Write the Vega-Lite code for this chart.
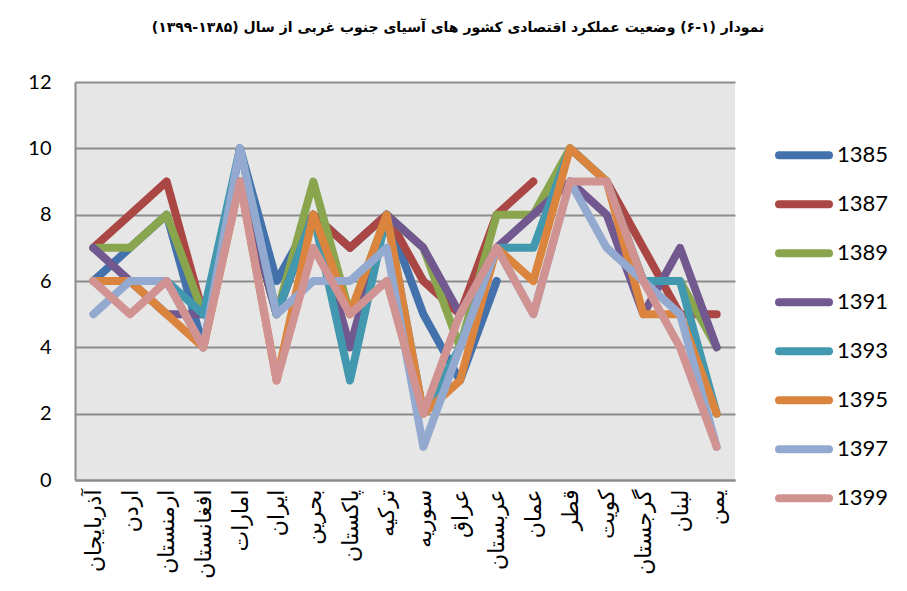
{
  "$schema": "https://vega.github.io/schema/vega-lite/v6.json",
  "width": 660,
  "height": 398,
  "autosize": {"type": "none"},
  "padding": {"left": 75, "top": 82, "right": 172, "bottom": 111},
  "background": "white",
  "title": {
    "text": "نمودار (۱-۶) وضعیت عملکرد اقتصادی کشور های آسیای جنوب غربی از سال (۱۳۸۵-۱۳۹۹)‏",
    "font": "DejaVu Sans",
    "fontSize": 14,
    "fontWeight": "bold",
    "color": "black",
    "anchor": "middle",
    "dx": 53,
    "offset": 37
  },
  "config": {
    "view": {"fill": "#e6e6e6", "stroke": null},
    "axis": {"domainColor": "#8c8c8c", "domainWidth": 2, "gridColor": "#8c8c8c", "gridWidth": 2, "ticks": false}
  },
  "data": {"values": [
    {"c":"آذربایجان","y":"1385","v":6},{"c":"اردن","y":"1385","v":7},{"c":"ارمنستان","y":"1385","v":8},{"c":"افغانستان","y":"1385","v":4},{"c":"امارات","y":"1385","v":10},{"c":"ایران","y":"1385","v":6},{"c":"بحرین","y":"1385","v":8},{"c":"پاکستان","y":"1385","v":7},{"c":"ترکیه","y":"1385","v":8},{"c":"سوریه","y":"1385","v":5},{"c":"عراق","y":"1385","v":3},{"c":"عربستان","y":"1385","v":6},
    {"c":"آذربایجان","y":"1387","v":7},{"c":"اردن","y":"1387","v":8},{"c":"ارمنستان","y":"1387","v":9},{"c":"افغانستان","y":"1387","v":5},{"c":"امارات","y":"1387","v":9},{"c":"ایران","y":"1387","v":5},{"c":"بحرین","y":"1387","v":8},{"c":"پاکستان","y":"1387","v":7},{"c":"ترکیه","y":"1387","v":8},{"c":"سوریه","y":"1387","v":6},{"c":"عراق","y":"1387","v":5},{"c":"عربستان","y":"1387","v":8},{"c":"عمان","y":"1387","v":9},{"c":"قطر","y":"1387","v":null},{"c":"کویت","y":"1387","v":9},{"c":"گرجستان","y":"1387","v":7},{"c":"لبنان","y":"1387","v":5},{"c":"یمن","y":"1387","v":5},
    {"c":"آذربایجان","y":"1389","v":7},{"c":"اردن","y":"1389","v":7},{"c":"ارمنستان","y":"1389","v":8},{"c":"افغانستان","y":"1389","v":5},{"c":"امارات","y":"1389","v":9},{"c":"ایران","y":"1389","v":5},{"c":"بحرین","y":"1389","v":9},{"c":"پاکستان","y":"1389","v":5},{"c":"ترکیه","y":"1389","v":8},{"c":"سوریه","y":"1389","v":7},{"c":"عراق","y":"1389","v":4},{"c":"عربستان","y":"1389","v":8},{"c":"عمان","y":"1389","v":8},{"c":"قطر","y":"1389","v":10},{"c":"کویت","y":"1389","v":9},{"c":"گرجستان","y":"1389","v":6},{"c":"لبنان","y":"1389","v":6},{"c":"یمن","y":"1389","v":4},
    {"c":"آذربایجان","y":"1391","v":7},{"c":"اردن","y":"1391","v":6},{"c":"ارمنستان","y":"1391","v":5},{"c":"افغانستان","y":"1391","v":5},{"c":"امارات","y":"1391","v":9},{"c":"ایران","y":"1391","v":5},{"c":"بحرین","y":"1391","v":8},{"c":"پاکستان","y":"1391","v":4},{"c":"ترکیه","y":"1391","v":8},{"c":"سوریه","y":"1391","v":7},{"c":"عراق","y":"1391","v":5},{"c":"عربستان","y":"1391","v":7},{"c":"عمان","y":"1391","v":8},{"c":"قطر","y":"1391","v":9},{"c":"کویت","y":"1391","v":8},{"c":"گرجستان","y":"1391","v":5},{"c":"لبنان","y":"1391","v":7},{"c":"یمن","y":"1391","v":4},
    {"c":"آذربایجان","y":"1393","v":6},{"c":"اردن","y":"1393","v":6},{"c":"ارمنستان","y":"1393","v":6},{"c":"افغانستان","y":"1393","v":5},{"c":"امارات","y":"1393","v":10},{"c":"ایران","y":"1393","v":5},{"c":"بحرین","y":"1393","v":8},{"c":"پاکستان","y":"1393","v":3},{"c":"ترکیه","y":"1393","v":8},{"c":"سوریه","y":"1393","v":2},{"c":"عراق","y":"1393","v":4},{"c":"عربستان","y":"1393","v":7},{"c":"عمان","y":"1393","v":7},{"c":"قطر","y":"1393","v":10},{"c":"کویت","y":"1393","v":9},{"c":"گرجستان","y":"1393","v":6},{"c":"لبنان","y":"1393","v":6},{"c":"یمن","y":"1393","v":2},
    {"c":"آذربایجان","y":"1395","v":6},{"c":"اردن","y":"1395","v":6},{"c":"ارمنستان","y":"1395","v":5},{"c":"افغانستان","y":"1395","v":4},{"c":"امارات","y":"1395","v":9},{"c":"ایران","y":"1395","v":3},{"c":"بحرین","y":"1395","v":8},{"c":"پاکستان","y":"1395","v":5},{"c":"ترکیه","y":"1395","v":8},{"c":"سوریه","y":"1395","v":2},{"c":"عراق","y":"1395","v":3},{"c":"عربستان","y":"1395","v":7},{"c":"عمان","y":"1395","v":6},{"c":"قطر","y":"1395","v":10},{"c":"کویت","y":"1395","v":9},{"c":"گرجستان","y":"1395","v":5},{"c":"لبنان","y":"1395","v":5},{"c":"یمن","y":"1395","v":2},
    {"c":"آذربایجان","y":"1397","v":5},{"c":"اردن","y":"1397","v":6},{"c":"ارمنستان","y":"1397","v":6},{"c":"افغانستان","y":"1397","v":4},{"c":"امارات","y":"1397","v":10},{"c":"ایران","y":"1397","v":5},{"c":"بحرین","y":"1397","v":6},{"c":"پاکستان","y":"1397","v":6},{"c":"ترکیه","y":"1397","v":7},{"c":"سوریه","y":"1397","v":1},{"c":"عراق","y":"1397","v":4},{"c":"عربستان","y":"1397","v":7},{"c":"عمان","y":"1397","v":5},{"c":"قطر","y":"1397","v":9},{"c":"کویت","y":"1397","v":7},{"c":"گرجستان","y":"1397","v":6},{"c":"لبنان","y":"1397","v":5},{"c":"یمن","y":"1397","v":1},
    {"c":"آذربایجان","y":"1399","v":6},{"c":"اردن","y":"1399","v":5},{"c":"ارمنستان","y":"1399","v":6},{"c":"افغانستان","y":"1399","v":4},{"c":"امارات","y":"1399","v":9},{"c":"ایران","y":"1399","v":3},{"c":"بحرین","y":"1399","v":7},{"c":"پاکستان","y":"1399","v":5},{"c":"ترکیه","y":"1399","v":6},{"c":"سوریه","y":"1399","v":2},{"c":"عراق","y":"1399","v":5},{"c":"عربستان","y":"1399","v":7},{"c":"عمان","y":"1399","v":5},{"c":"قطر","y":"1399","v":9},{"c":"کویت","y":"1399","v":9},{"c":"گرجستان","y":"1399","v":6},{"c":"لبنان","y":"1399","v":4},{"c":"یمن","y":"1399","v":1}
  ]},
  "mark": {"type": "line", "strokeWidth": 8, "strokeCap": "round", "strokeJoin": "round"},
  "encoding": {
    "x": {
      "field": "c", "type": "nominal",
      "sort": ["آذربایجان","اردن","ارمنستان","افغانستان","امارات","ایران","بحرین","پاکستان","ترکیه","سوریه","عراق","عربستان","عمان","قطر","کویت","گرجستان","لبنان","یمن"],
      "scale": {"type": "point", "padding": 0.5},
      "axis": {"title": null, "labelAngle": -90, "labelAlign": "right", "labelBaseline": "middle", "labelFont": "DejaVu Sans", "labelFontSize": 22, "labelColor": "black", "labelPadding": 9, "grid": false}
    },
    "y": {
      "field": "v", "type": "quantitative",
      "scale": {"domain": [0, 12], "nice": false},
      "axis": {"title": null, "values": [0, 2, 4, 6, 8, 10, 12], "labelFont": "Lato", "labelFontSize": 20, "labelColor": "black", "labelPadding": 24, "grid": true}
    },
    "color": {
      "field": "y", "type": "nominal",
      "scale": {"domain": ["1385","1387","1389","1391","1393","1395","1397","1399"], "range": ["#4271ab","#aa4643","#89a54e","#71588f","#4198af","#db843d","#93a9cf","#d19392"]},
      "legend": {
        "title": null, "orient": "none", "legendX": 700, "legendY": 50,
        "symbolType": "stroke", "symbolSize": 2500, "symbolStrokeWidth": 8,
        "labelFont": "Lato", "labelFontSize": 22, "labelColor": "black", "labelOffset": 4,
        "clipHeight": 46.5, "rowPadding": 2, "padding": 0,
        "encode": {"symbols": {"update": {"strokeCap": {"value": "round"}}}}
      }
    }
  }
}
